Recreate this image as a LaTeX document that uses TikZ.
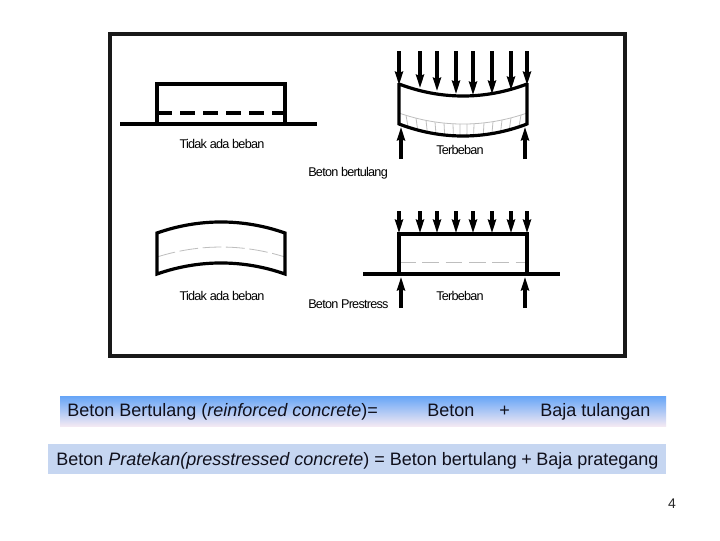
\documentclass[tikz,border=0pt]{standalone}
\usepackage{fontspec}
\setmainfont{Liberation Sans}
\newfontfamily\tightfont[LetterSpace=-6]{Liberation Sans}
\usetikzlibrary{arrows.meta}
\definecolor{bandtop}{HTML}{66A5F7}
\definecolor{bandbot}{HTML}{F3E9F3}
\definecolor{bandtwo}{HTML}{C6D6F1}
\definecolor{grayline}{HTML}{BEBEBE}
\definecolor{txt}{HTML}{10101C}
\tikzset{
  x=0.75pt,y=-0.75pt,
  frameline/.style={draw=black!90,line width=2.3pt},
  beamline/.style={draw=black,line width=2.4pt,line cap=butt,line join=miter},
  graycurve/.style={draw=grayline,line width=0.6pt},
  loadarrow/.style={draw=black,line width=2.4pt,-{Stealth[length=10pt,width=6pt,inset=1pt]}},
  figlabel/.style={font=\tightfont\fontsize{9.5}{10}\selectfont,inner sep=0pt,text=black},
  bandtext/.style={font=\fontsize{13.5}{15}\selectfont,inner sep=0pt,anchor=base west,text=txt},
}
\begin{document}
\begin{tikzpicture}
\useasboundingbox (0,0) rectangle (720,540);
\fill[white] (0,0) rectangle (720,540);
% frame
\draw[frameline] (110,34) rectangle (625,356);

% unloaded reinforced beam
\draw[beamline] (157,124) -- (157,84) -- (285,84) -- (285,124);
\draw[beamline] (120,124) -- (317,124);
\draw[beamline,dash pattern=on 11.25pt off 6pt] (157,113) -- (285,113);
\node[figlabel] (l1) at (222,144) {Tidak ada beban};

% loaded reinforced beam
\draw[graycurve] (399,113) .. controls (441,127.7) and (485,127.7) .. (527,113);
\foreach \t in {406,416,426,435,444,453,460,467,474,484,493,502,511,521}{
  \pgfmathsetmacro{\u}{(\t-463)/64}
  \pgfmathsetmacro{\ya}{113+11*(1-\u*\u)}
  \pgfmathsetmacro{\yb}{124+12*(1-\u*\u)}
  \pgfmathsetmacro{\xb}{\t-2.2*\u}
  \draw[graycurve] (\t,\ya) -- (\xb,\yb);
}
\draw[beamline] (399,84) .. controls (441,100) and (485,100) .. (527,84)
  (399,83) -- (399,125)
  (399,124) .. controls (441,140) and (485,140) .. (527,124)
  (527,83) -- (527,125);
\foreach \xx/\yy in {399/85,420/88,437/91,456/94,473/95,492/94,511/90,527/85}{
  \draw[loadarrow] (\xx,51) -- (\xx,\yy);
}
\draw[loadarrow] (401,159) -- (401,127);
\draw[loadarrow] (525,159) -- (525,127);
\node[figlabel] (l2) at (460,150) {Terbeban};

\node[figlabel,anchor=west] (l3) at (308,173) {Beton bertulang};

% cambered prestressed beam
\draw[graycurve,dash pattern=on 14pt off 3.5pt] (157,257) .. controls (199,243.7) and (243,243.7) .. (285,257);
\draw[beamline] (285,233) .. controls (243,218.3) and (199,218.3) .. (157,233) -- (157,274) .. controls (199,259.3) and (243,259.3) .. (285,274) -- cycle;
\node[figlabel] (l4) at (222,296) {Tidak ada beban};

% loaded prestressed beam
\draw[graycurve,dash pattern=on 12.5pt off 5pt] (399,262) -- (527,262);
\draw[beamline] (399,274) -- (399,234) -- (527,234) -- (527,274);
\draw[beamline] (363,274) -- (560,274);
\foreach \xx in {399,420,437,456,473,492,511,527}{
  \draw[loadarrow] (\xx,211) -- (\xx,233);
}
\draw[loadarrow] (401,308) -- (401,277);
\draw[loadarrow] (525,308) -- (525,277);
\node[figlabel] (l5) at (460,296) {Terbeban};

\node[figlabel,anchor=west] (l6) at (308,304) {Beton Prestress};

% bands
\shade[top color=bandtop,bottom color=bandbot] (60,396) rectangle (666,426);
\fill[bandtwo] (48,444) rectangle (666,474);

\node[bandtext] (b1) at (67,416) {Beton Bertulang (\textit{reinforced concrete})=};
\node[bandtext] (b2) at (427,416) {Beton};
\node[bandtext] (b3) at (499,416) {+};
\node[bandtext] (b4) at (540,416) {Baja tulangan};
\node[bandtext] (b5) at (56,465) {Beton \textit{Pratekan(presstressed concrete}) = Beton bertulang};
\node[bandtext] (b6) at (521,465) {+};
\node[bandtext] (b7) at (536,465) {Baja prategang};

\node[font=\fontsize{10.5}{12}\selectfont,inner sep=0pt,text=black!85] (pg) at (672,504) {4};
\end{tikzpicture}
\end{document}
